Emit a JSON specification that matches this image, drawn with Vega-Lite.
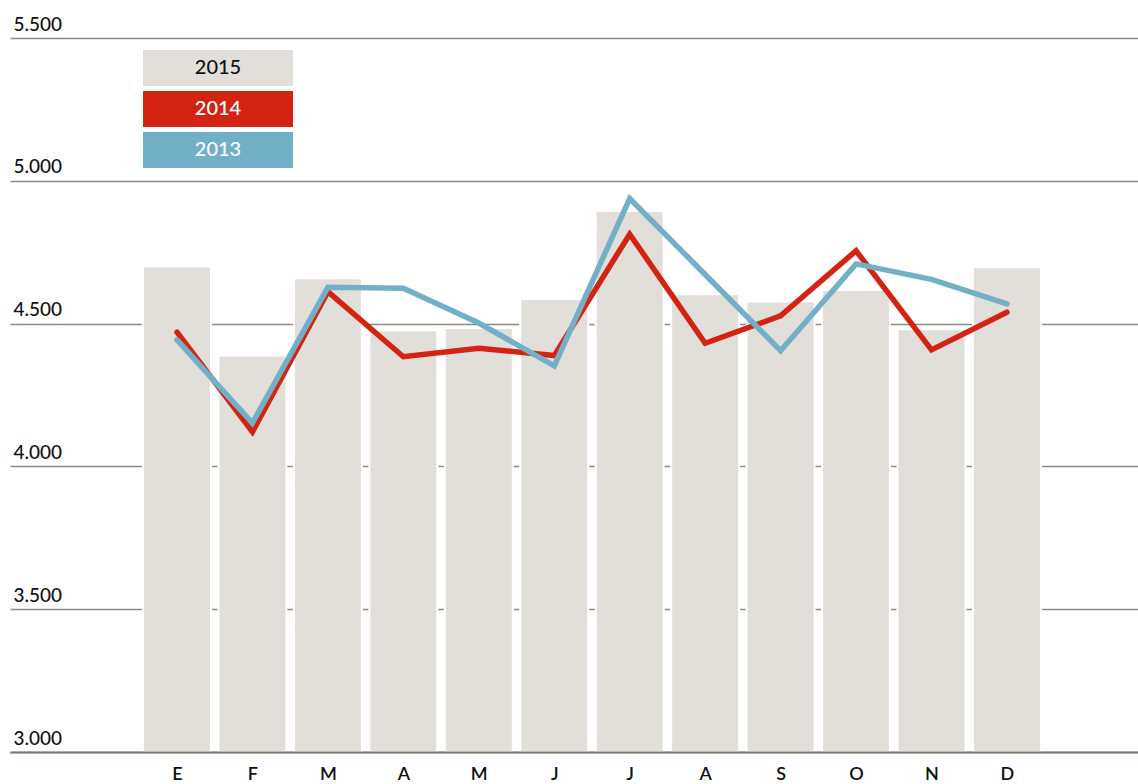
{
  "$schema": "https://vega.github.io/schema/vega-lite/v6.json",
  "width": 1128,
  "height": 714,
  "autosize": {"type": "none"},
  "padding": {"left": 10, "top": 38, "right": 0, "bottom": 32},
  "background": "white",
  "config": {"view": {"stroke": null}, "font": "Lato"},
  "data": {
    "values": [
      {"m": 1, "year": "2015", "v": 4700},
      {"m": 2, "year": "2015", "v": 4388},
      {"m": 3, "year": "2015", "v": 4659},
      {"m": 4, "year": "2015", "v": 4477},
      {"m": 5, "year": "2015", "v": 4485},
      {"m": 6, "year": "2015", "v": 4586},
      {"m": 7, "year": "2015", "v": 4894},
      {"m": 8, "year": "2015", "v": 4603},
      {"m": 9, "year": "2015", "v": 4577},
      {"m": 10, "year": "2015", "v": 4618},
      {"m": 11, "year": "2015", "v": 4480},
      {"m": 12, "year": "2015", "v": 4697},
      {"m": 1, "year": "2014", "v": 4470},
      {"m": 2, "year": "2014", "v": 4121},
      {"m": 3, "year": "2014", "v": 4612},
      {"m": 4, "year": "2014", "v": 4384},
      {"m": 5, "year": "2014", "v": 4414},
      {"m": 6, "year": "2014", "v": 4388},
      {"m": 7, "year": "2014", "v": 4813},
      {"m": 8, "year": "2014", "v": 4431},
      {"m": 9, "year": "2014", "v": 4527},
      {"m": 10, "year": "2014", "v": 4755},
      {"m": 11, "year": "2014", "v": 4408},
      {"m": 12, "year": "2014", "v": 4540},
      {"m": 1, "year": "2013", "v": 4443},
      {"m": 2, "year": "2013", "v": 4152},
      {"m": 3, "year": "2013", "v": 4627},
      {"m": 4, "year": "2013", "v": 4624},
      {"m": 5, "year": "2013", "v": 4502},
      {"m": 6, "year": "2013", "v": 4352},
      {"m": 7, "year": "2013", "v": 4938},
      {"m": 8, "year": "2013", "v": 4672},
      {"m": 9, "year": "2013", "v": 4405},
      {"m": 10, "year": "2013", "v": 4709},
      {"m": 11, "year": "2013", "v": 4655},
      {"m": 12, "year": "2013", "v": 4569}
    ]
  },
  "encoding": {
    "x": {
      "field": "m",
      "type": "quantitative",
      "scale": {"domain": [-1.2134, 13.737], "nice": false, "zero": false, "padding": 0},
      "axis": {
        "title": null,
        "values": [1, 2, 3, 4, 5, 6, 7, 8, 9, 10, 11, 12],
        "labelExpr": "['E','F','M','A','M','J','J','A','S','O','N','D'][datum.value - 1]",
        "labelAngle": 0,
        "labelFlush": false,
        "labelOverlap": false,
        "ticks": false,
        "tickSize": 0,
        "domain": true,
        "domainColor": "#7b7a6b",
        "domainWidth": 2,
        "labelPadding": 13,
        "labelFontSize": 18,
        "labelFontWeight": 600,
        "labelColor": "#111111",
        "labelFont": "Lato",
        "grid": false,
        "zindex": 1
      }
    },
    "y": {
      "field": "v",
      "type": "quantitative",
      "scale": {"domain": [3000, 5500], "nice": false, "zero": false},
      "axis": {
        "values": [3000, 3500, 4000, 4500, 5000, 5500],
        "title": null,
        "domain": false,
        "ticks": false,
        "tickSize": 0,
        "grid": true,
        "gridColor": "#8c8a7b",
        "gridWidth": 1.5,
        "labelAlign": "left",
        "labelBaseline": "alphabetic",
        "labelPadding": -3,
        "labelOffset": -8,
        "labelFontSize": 19,
        "labelFontWeight": 500,
        "labelFont": "Lato",
        "labelColor": "#111111",
        "labelExpr": "replace(format(datum.value, ','), ',', '.')",
        "zindex": 0
      }
    },
    "color": {
      "field": "year",
      "type": "nominal",
      "scale": {"domain": ["2015", "2014", "2013"], "range": ["#e2dfda", "#d52313", "#72b0c7"]},
      "legend": {
        "orient": "none",
        "legendX": 190,
        "legendY": 12,
        "title": null,
        "symbolType": "M-4.1667,-1H4.1667V1H-4.1667Z",
        "symbolSize": 1296,
        "symbolStrokeWidth": 0,
        "symbolOpacity": 1,
        "labelAlign": "center",
        "labelBaseline": "middle",
        "labelOffset": -18,
        "labelFontSize": 20,
        "labelFontWeight": 500,
        "labelFont": "Lato",
        "rowPadding": 5,
        "padding": 0,
        "offset": 0,
        "encode": {
          "symbols": {"update": {"fill": {"scale": "color", "field": "value"}, "stroke": {"value": "transparent"}, "opacity": {"value": 1}}},
          "labels": {"update": {"fill": [{"test": "datum.value === '2015'", "value": "#111111"}, {"value": "#ffffff"}]}}
        }
      }
    }
  },
  "layer": [
    {
      "transform": [{"filter": "datum.year === '2015'"}],
      "mark": {"type": "bar", "stroke": "white", "strokeWidth": 2, "width": 68},
      "encoding": {"y2": {"datum": 3000}}
    },
    {
      "transform": [{"filter": "datum.year !== '2015'"}],
      "mark": {"type": "line", "strokeWidth": 5.5, "strokeCap": "round", "strokeJoin": "miter"}
    }
  ]
}
